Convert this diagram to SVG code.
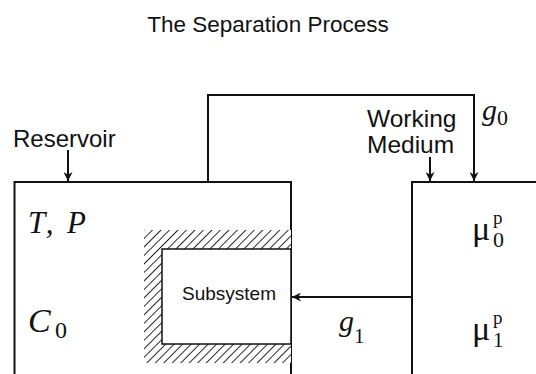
<svg xmlns="http://www.w3.org/2000/svg" width="536" height="374" viewBox="0 0 536 374">
<style>
.ln{fill:none;stroke:#111;stroke-width:2}
.sans{font-family:"Liberation Sans",Arial,sans-serif;fill:#111}
.serif{font-family:"Liberation Serif","Times New Roman",serif;fill:#111}
.it{font-style:italic}
</style>
<defs>
<marker id="ah" viewBox="0 0 10 10" refX="10" refY="5" markerWidth="9" markerHeight="9" markerUnits="userSpaceOnUse" orient="auto">
<path d="M0,0 L10,5 L0,10 L3,5 Z" fill="#111"/>
</marker>
<pattern id="hatch" width="6" height="6" patternUnits="userSpaceOnUse" patternTransform="rotate(45)">
<rect width="6" height="6" fill="#fff"/>
<line x1="0" y1="0" x2="0" y2="6" stroke="#111" stroke-width="1.8"/>
</pattern>
</defs>
<rect width="536" height="374" fill="#fff"/>
<text class="sans" x="268" y="32" font-size="22.5" text-anchor="middle">The Separation Process</text>

<g id="reservoir">
<path class="ln" d="M14.5,380 V182 H291 V380"/>
<text class="sans" x="13" y="147" font-size="24">Reservoir</text>
<text class="serif it" x="28" y="233" font-size="31" textLength="58" lengthAdjust="spacing">T, P</text>
<text class="serif it" x="28" y="332" font-size="34">C</text>
<text class="serif" x="55" y="338" font-size="24">0</text>
</g>

<g id="subsystem">
<path d="M144,230 H291 V363 H144 Z M162,249 V344 H291 V249 Z" fill="url(#hatch)" fill-rule="evenodd"/>
<rect x="162" y="249" width="129" height="95" fill="#fff" stroke="#111" stroke-width="1.5"/>
<text class="sans" x="229" y="300" font-size="19" text-anchor="middle">Subsystem</text>
</g>

<g id="working-medium">
<path class="ln" d="M412,380 V182 H540"/>
<text class="sans" x="367" y="127" font-size="24.5">Working</text>
<text class="sans" x="367" y="153" font-size="24.5">Medium</text>
<text class="serif" x="472" y="240" font-size="34">μ</text>
<text class="serif" x="493" y="224" font-size="19">p</text>
<text class="serif" x="493" y="247" font-size="22">0</text>
<text class="serif" x="472" y="340" font-size="34">μ</text>
<text class="serif" x="493" y="324" font-size="19">p</text>
<text class="serif" x="493" y="347" font-size="21">1</text>
</g>

<g id="connectors">
<path class="ln" d="M208,182 V95 H474 V181" marker-end="url(#ah)"/>
<line class="ln" x1="68" y1="150" x2="68" y2="181" marker-end="url(#ah)"/>
<line class="ln" x1="430" y1="157" x2="430" y2="181" marker-end="url(#ah)"/>
<line class="ln" x1="412" y1="297" x2="292" y2="297" marker-end="url(#ah)"/>
<text class="serif it" x="482" y="120" font-size="30">g</text>
<text class="serif" x="497" y="125" font-size="22">0</text>
<text class="serif it" x="339" y="331" font-size="30">g</text>
<text class="serif" x="354" y="343" font-size="21">1</text>
</g>
</svg>
